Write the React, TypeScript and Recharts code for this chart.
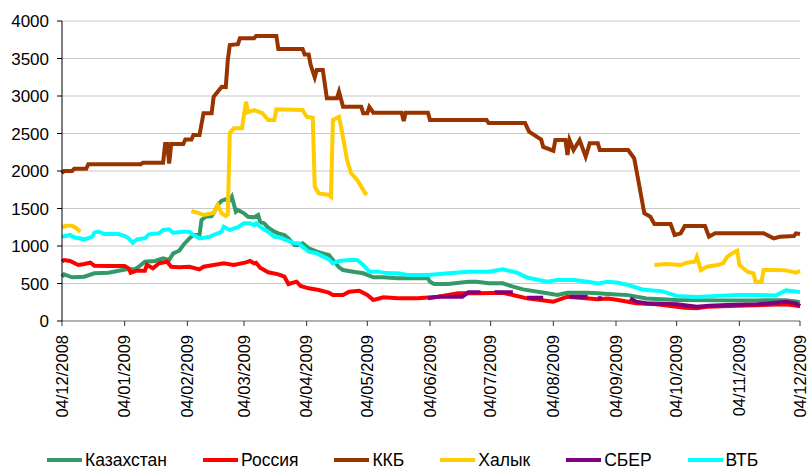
import React from 'react';
import { LineChart, Line, XAxis, YAxis, CartesianGrid, Legend } from 'recharts';

// days since 04/12/2008
const dayTicks = [0, 31, 62, 90, 121, 151, 182, 212, 243, 274, 304, 335, 365];
const dayLabels = [
  '04/12/2008', '04/01/2009', '04/02/2009', '04/03/2009', '04/04/2009', '04/05/2009',
  '04/06/2009', '04/07/2009', '04/08/2009', '04/09/2009', '04/10/2009', '04/11/2009', '04/12/2009',
];
const yTicks = [0, 500, 1000, 1500, 2000, 2500, 3000, 3500, 4000];

type Pt = [number, number | null];

const kazakhstan: Pt[] = [
  [0, 590], [1, 622], [5, 582], [11, 590], [16, 636], [23, 644], [28, 670], [32, 689], [36, 689],
  [38, 724], [41, 791], [46, 800], [50, 836], [53, 813], [55, 902], [58, 937], [60, 1013], [63, 1102],
  [65, 1147], [68, 1147], [69, 1347], [71, 1390], [74, 1400], [75, 1436], [77, 1547], [79, 1604],
  [81, 1622], [83, 1613], [84, 1657], [86, 1457], [87, 1480], [90, 1436], [92, 1390], [95, 1382],
  [97, 1413], [98, 1324], [100, 1302], [102, 1245], [105, 1191], [107, 1169], [110, 1147], [112, 1102],
  [115, 1013], [117, 1013], [119, 1036], [122, 969], [126, 924], [129, 902], [132, 880], [134, 813],
  [137, 716], [139, 680], [144, 657], [149, 636], [154, 582], [159, 582], [166, 569], [171, 569],
  [181, 569], [182, 524], [184, 493], [191, 493], [201, 524], [205, 524], [211, 502], [218, 502],
  [223, 458], [228, 422], [240, 369], [245, 347], [250, 377], [260, 377], [265, 369], [270, 360],
  [280, 345], [289, 300], [304, 280], [324, 275], [344, 275], [358, 278], [363, 260], [365, 250],
];

const russia: Pt[] = [
  [0, 791], [1, 813], [4, 800], [8, 747], [11, 760], [14, 777], [16, 738], [23, 733], [31, 733],
  [33, 702], [34, 644], [37, 671], [41, 671], [42, 747], [45, 702], [48, 769], [52, 791], [54, 724],
  [58, 716], [63, 724], [68, 689], [70, 724], [75, 747], [80, 769], [85, 747], [91, 782], [93, 800],
  [95, 769], [96, 777], [98, 710], [100, 680], [102, 650], [107, 622], [110, 591], [112, 493],
  [116, 524], [118, 467], [122, 436], [127, 413], [132, 378], [134, 347], [139, 347], [142, 391],
  [147, 404], [151, 347], [154, 280], [159, 316], [166, 302], [176, 302], [186, 324], [196, 369],
  [206, 369], [218, 377], [223, 347], [230, 302], [243, 258], [250, 324], [265, 289], [270, 300],
  [275, 280], [284, 236], [294, 222], [308, 178], [314, 169], [319, 191], [334, 204], [358, 222],
  [362, 210], [365, 195],
];

const kkb: Pt[] = [
  [0, 1970], [1, 2000], [5, 2000], [6, 2030], [12, 2030], [13, 2090], [39, 2090], [40, 2110],
  [50, 2110], [51, 2360], [52, 2360], [53, 2100], [54, 2360], [60, 2360], [61, 2420], [64, 2420],
  [65, 2480], [68, 2480], [70, 2770], [74, 2770], [75, 2990], [77, 3057], [79, 3124], [81, 3120],
  [82, 3480], [83, 3680], [87, 3690], [88, 3770], [95, 3770], [96, 3800], [106, 3800], [107, 3627],
  [119, 3627], [120, 3555], [122, 3555], [123, 3413], [125, 3249], [126, 3346], [129, 3346],
  [131, 2969], [136, 2969], [137, 3057], [139, 2857], [148, 2857], [149, 2769], [151, 2769],
  [152, 2853], [154, 2777], [168, 2777], [169, 2667], [170, 2777], [181, 2777], [182, 2680],
  [210, 2680], [211, 2640], [229, 2640], [231, 2524], [237, 2420], [238, 2320], [243, 2270],
  [244, 2413], [249, 2413], [250, 2213], [251, 2413], [253, 2280], [256, 2413], [259, 2190],
  [261, 2369], [265, 2369], [266, 2280], [280, 2280], [283, 2169], [285, 1880], [288, 1436],
  [291, 1390], [293, 1293], [301, 1293], [303, 1147], [306, 1169], [308, 1267], [318, 1267],
  [320, 1124], [323, 1169], [347, 1169], [352, 1102], [355, 1124], [362, 1133], [363, 1169], [365, 1160],
];

const halyk: Pt[] = [
  [0, 1250], [2, 1270], [5, 1270], [7, 1240], [9, 1190], [10, null],
  [63, null], [64, 1467], [68, 1435], [70, 1413], [75, 1440], [77, 1547], [79, 1436], [81, 1400],
  [82, 1420], [83, 2506], [85, 2569], [89, 2570], [90, 2747], [91, 2924], [92, 2782], [95, 2813],
  [99, 2773], [102, 2680], [105, 2680], [106, 2822], [119, 2813], [121, 2724], [124, 2711],
  [125, 1790], [127, 1702], [132, 1680], [133, 1657], [134, 2680], [137, 2724], [138, 2590],
  [141, 2146], [143, 1969], [146, 1880], [148, 1790], [150, 1702], [151, 1690], [152, null],
  [292, null], [293, 747], [299, 760], [306, 747], [309, 777], [313, 790], [314, 857], [316, 680],
  [319, 724], [324, 747], [327, 769], [329, 857], [332, 911], [334, 937], [335, 747], [339, 657],
  [342, 636], [343, 524], [346, 524], [347, 680], [353, 680], [358, 675], [363, 644], [365, 670],
];

const sber: Pt[] = [
  [181, 302], [186, 324], [198, 324], [201, 382], [207, 382], [208, null],
  [214, 382], [223, 382], [224, null],
  [230, 311], [238, 311], [239, null],
  [251, 324], [260, 324], [261, null],
  [265, 302], [267, 302], [268, null],
  [281, 302], [284, 258], [289, 236], [304, 222], [314, 191], [320, 204], [329, 213], [344, 222],
  [358, 258], [363, 236], [365, 200],
];

const vtb: Pt[] = [
  [0, 1124], [4, 1147], [6, 1116], [11, 1089], [15, 1124], [16, 1178], [18, 1191], [21, 1160],
  [28, 1160], [31, 1133], [33, 1102], [35, 1044], [37, 1089], [41, 1102], [43, 1155], [48, 1169],
  [50, 1213], [53, 1222], [55, 1178], [60, 1191], [63, 1191], [65, 1147], [68, 1102], [73, 1124],
  [75, 1147], [79, 1191], [80, 1257], [83, 1213], [85, 1236], [87, 1250], [90, 1302], [93, 1302],
  [95, 1280], [96, 1302], [99, 1236], [102, 1191], [105, 1124], [107, 1120], [110, 1089],
  [115, 1036], [117, 1036], [119, 991], [122, 924], [126, 902], [132, 822], [134, 769], [137, 800],
  [142, 813], [146, 813], [149, 747], [152, 658], [156, 658], [159, 645], [162, 640], [166, 636],
  [171, 613], [181, 613], [191, 636], [201, 658], [211, 658], [218, 689], [223, 658], [225, 644],
  [230, 580], [240, 524], [245, 547], [253, 547], [260, 524], [265, 502], [270, 524], [275, 510],
  [280, 480], [287, 420], [297, 395], [304, 335], [314, 320], [324, 335], [334, 347], [344, 347],
  [353, 340], [358, 408], [365, 388],
];

const series = [
  { name: 'Казахстан', color: '#339966', points: kazakhstan },
  { name: 'Россия', color: '#FF0000', points: russia },
  { name: 'ККБ', color: '#993300', points: kkb },
  { name: 'Халык', color: '#FFCC00', points: halyk },
  { name: 'СБЕР', color: '#800080', points: sber },
  { name: 'ВТБ', color: '#00FFFF', points: vtb },
];

const font = '"Liberation Sans", Arial, sans-serif';

const toRows = (pts: Pt[]) => pts.map(([d, v]) => ({ d, v }));

const DateTick = (props: any) => {
  const { x, y, payload } = props;
  const label = dayLabels[dayTicks.indexOf(payload.value)];
  return (
    <text
      x={0}
      y={0}
      dy="0.35em"
      textAnchor="end"
      fontSize={16.5}
      fontFamily={font}
      fill="#000"
      transform={`translate(${x},${y}) rotate(-90)`}
    >
      {label}
    </text>
  );
};

const renderLegend = () => (
  <div
    style={{
      display: 'flex',
      alignItems: 'center',
      height: 22,
      paddingLeft: 47,
      fontFamily: font,
      fontSize: 17.5,
      color: '#000',
    }}
  >
    {series.map((s) => (
      <div key={s.name} style={{ display: 'flex', alignItems: 'center', marginRight: 36 }}>
        <span style={{ display: 'inline-block', width: 35, height: 4, background: s.color, marginRight: 3 }} />
        <span style={{ lineHeight: '22px', whiteSpace: 'nowrap' }}>{s.name}</span>
      </div>
    ))}
  </div>
);

export default function App() {
  return (
    <div style={{ position: 'absolute', left: 0, top: 0 }}>
      <LineChart width={810} height={471} margin={{ top: 21, right: 10, left: 0, bottom: 0 }}>
        <CartesianGrid vertical={false} stroke="#c8c8c8" />
        <XAxis
          type="number"
          dataKey="d"
          domain={[0, 365]}
          ticks={dayTicks}
          interval={0}
          height={128}
          tickSize={5}
          tickMargin={9}
          tick={<DateTick />}
          axisLine={{ stroke: '#808080' }}
          tickLine={{ stroke: '#333' }}
          allowDuplicatedCategory={false}
        />
        <YAxis
          type="number"
          domain={[0, 4000]}
          ticks={yTicks}
          interval={0}
          width={62}
          tickSize={5}
          tickMargin={8}
          tick={{ fontSize: 17, fontFamily: font, fill: '#000' }}
          axisLine={{ stroke: '#000' }}
          tickLine={{ stroke: '#000' }}
        />
        <Legend verticalAlign="bottom" content={renderLegend} wrapperStyle={{ left: 0, width: 810 }} />
        {series.map((s) => (
          <Line
            key={s.name}
            name={s.name}
            data={toRows(s.points)}
            dataKey="v"
            type="linear"
            stroke={s.color}
            strokeWidth={4}
            dot={false}
            activeDot={false}
            isAnimationActive={false}
          />
        ))}
      </LineChart>
    </div>
  );
}
